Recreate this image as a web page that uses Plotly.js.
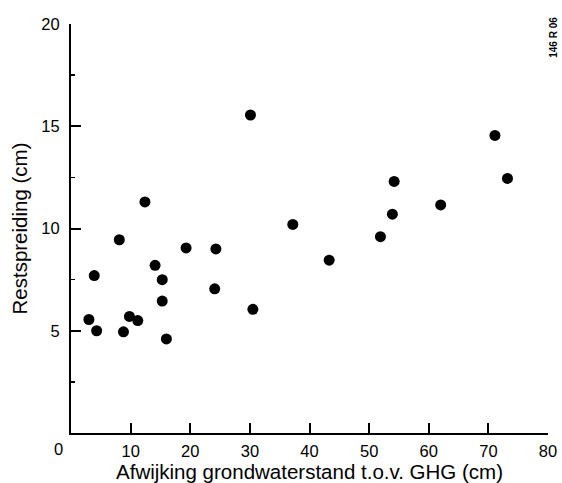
<!DOCTYPE html>
<html>
<head>
<meta charset="utf-8">
<script src="https://cdn.plot.ly/plotly-3.0.1.min.js"></script>
<style>html,body{margin:0;padding:0;background:#fff;}#chart{width:562px;height:483px;}</style>
</head>
<body>
<div id="chart"></div>
<script>
// Afwijking grondwaterstand t.o.v. GHG (cm)
const afwijking = [12.4, 8.1, 19.3, 3.9, 14.1, 15.3, 15.3, 3.0, 9.8, 11.2, 4.3, 8.8, 16.0,
                   30.1, 24.3, 24.1, 30.5, 37.2, 43.3, 51.9, 53.9, 54.2, 62.0, 71.1, 73.2];
// Restspreiding (cm)
const restspreiding = [11.3, 9.45, 9.05, 7.7, 8.2, 7.5, 6.45, 5.55, 5.7, 5.5, 5.0, 4.95, 4.6,
                       15.55, 9.0, 7.05, 6.05, 10.2, 8.45, 9.6, 10.7, 12.3, 11.15, 14.55, 12.45];
const xTickVals = [10, 20, 30, 40, 50, 60, 70, 80];
const yTickVals = [5, 10, 15, 20];

const family = 'Liberation Sans, Arial, sans-serif';
const tickFont = {family: family, size: 16.5, color: '#000'};
const titleFont = {family: family, size: 20.5, color: '#000'};

const trace = {
  x: afwijking, y: restspreiding, type: 'scatter', mode: 'markers',
  marker: {color: '#000', size: 11, line: {width: 0}},
  hoverinfo: 'x+y'
};

const layout = {
  width: 562, height: 483,
  margin: {l: 71, r: 14, t: 24, b: 50},
  paper_bgcolor: '#fff', plot_bgcolor: '#fff',
  showlegend: false,
  font: tickFont,
  xaxis: {
    range: [0, 80], showgrid: false, zeroline: false,
    showline: true, linecolor: '#000', linewidth: 2,
    ticks: 'inside', ticklen: 10, tickwidth: 2, tickcolor: '#000',
    tickvals: xTickVals, ticktext: xTickVals.map(String),
    tickfont: tickFont,
    ticklabelstandoff: 2,
    title: {text: 'Afwijking grondwaterstand t.o.v. GHG (cm)', font: titleFont, standoff: 6},
    automargin: false
  },
  yaxis: {
    range: [0, 20], showgrid: false, zeroline: false,
    showline: true, linecolor: '#000', linewidth: 2,
    ticks: 'inside', ticklen: 10, tickwidth: 2, tickcolor: '#000',
    tickvals: yTickVals, ticktext: yTickVals.map(String),
    tickfont: tickFont,
    minor: {ticks: 'inside', ticklen: 4, tickwidth: 1.5, tickcolor: '#000', tickvals: [2.5, 7.5, 12.5, 17.5]},
    ticklabelstandoff: 6,
    title: {text: 'Restspreiding (cm)', font: titleFont, standoff: 8},
    automargin: false
  },
  annotations: [
    {text: '0', xref: 'paper', yref: 'paper', x: -0.027, y: 0, yshift: -16,
     showarrow: false, font: tickFont, xanchor: 'center', yanchor: 'middle'},
    {text: '<b>146 R 06</b>', xref: 'paper', yref: 'paper', x: 1.011, y: 1.022,
     showarrow: false, textangle: -90, font: {family: family, size: 10, color: '#000'},
     xanchor: 'center', yanchor: 'top'}
  ]
};

Plotly.newPlot('chart', [trace], layout, {displayModeBar: false, staticPlot: true});
</script>
</body>
</html>
